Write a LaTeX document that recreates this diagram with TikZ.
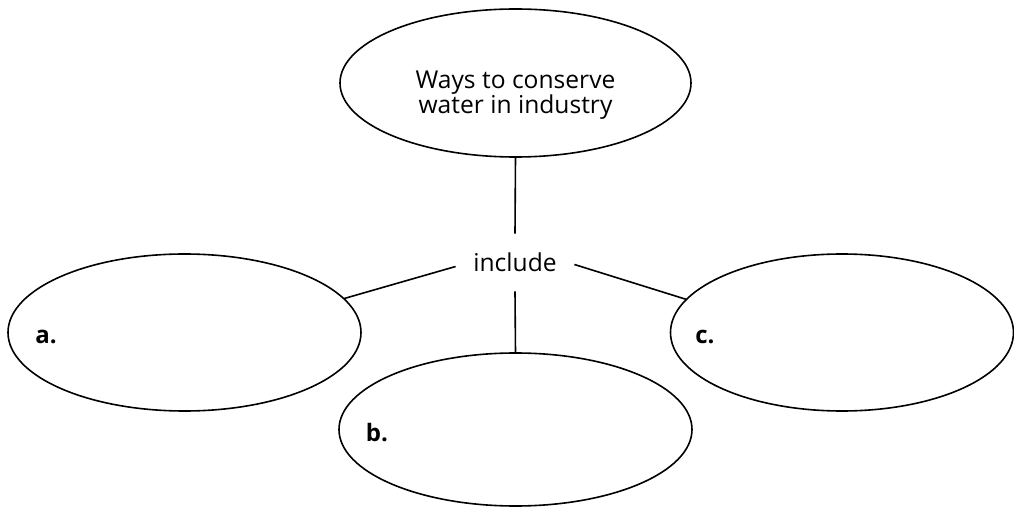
\documentclass[tikz,border=0pt]{standalone}
\usepackage{fontspec}
\setmainfont{Open Sans}
\usetikzlibrary{shapes.geometric}

\tikzset{
  bubble/.style={draw, ellipse, line width=0.8pt, inner sep=0pt, outer sep=0pt},
  tag/.style={font=\fontsize{12}{14}\selectfont\bfseries, inner sep=0pt},
}

\begin{document}
\begin{tikzpicture}[x=0.5pt,y=-0.5pt,line width=0.8pt]
   \useasboundingbox (0,0) rectangle (1014,508);
   \node[bubble, minimum width=175.5pt, minimum height=74pt,
         label={[name=title, align=center, yshift=-6pt,
                 font=\fontsize{12.3}{12.8}\selectfont]center:Ways to conserve\\water in industry}]
         (top) at (515.5,83) {};
   \node[inner xsep=8.5pt, minimum height=28pt, font=\fontsize{12.3}{14}\selectfont] (inc) at (515,262.5) {include};
   \node[bubble, minimum width=176.5pt, minimum height=78.5pt] (a) at (184.5,332.5) {};
   \node[bubble, minimum width=176.5pt, minimum height=76.5pt] (b) at (515.5,429.5) {};
   \node[bubble, minimum width=171.5pt, minimum height=78.5pt] (c) at (842,332.5) {};
   \node[tag] (la) at (46,337) {a.};
   \node[tag] (lb) at (377,433) {b.};
   \node[tag] (lc) at (705,337) {c.};
   \draw (top.south) -- (inc.north);
   \draw (inc.south) -- (b.north);
   \draw ([yshift=-2pt]inc.west) -- (a.12);
   \draw ([yshift=-1pt]inc.east) -- (c.168);
\end{tikzpicture}
\end{document}
